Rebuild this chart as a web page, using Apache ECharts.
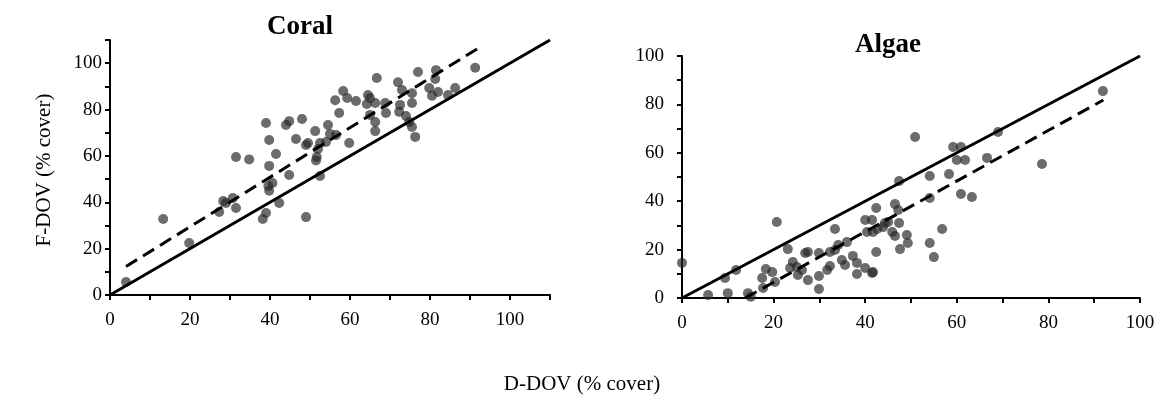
<!DOCTYPE html>
<html><head><meta charset="utf-8">
<script src="https://cdn.jsdelivr.net/npm/echarts@6/dist/echarts.min.js"></script>
<style>html,body{margin:0;padding:0;background:#fff}#c{width:1165px;height:401px}</style>
</head><body><div id="c"></div>
<script>
const coralPoints = [
[4,5.6],[13.3,32.8],[19.8,22.4],[27.3,35.8],[28.3,40.5],[29,39.7],[30.7,41.8],[31.5,37.5],[31.5,59.5],[34.8,58.5],
[38.2,32.8],[39,35.4],[39.6,47],[39.8,45],[40.6,48.3],[39.8,55.7],[42.3,39.7],[44.8,51.8],[49,33.6],[51.5,58],
[52.5,51.3],[39,74.2],[39.8,66.9],[41.5,60.8],[44,73.3],[44.8,75],[48,75.9],[46.5,67.3],[49.5,65.6],[51.3,70.7],
[51.7,59.5],[52.5,65.6],[54.5,73.3],[52,63],[55,69.5],[54,66],[56.5,69],[57.3,78.5],[56.3,84],[58.3,88],
[59.3,85],[61.5,83.7],[59.8,65.6],[64.5,86.3],[64.2,82.4],[66.3,82.8],[66.3,70.7],[66.7,93.6],[72,91.8],[77,96.2],
[81.5,97],[81.3,93.2],[91.3,98],[73,88.4],[75.5,87],[79.8,89.3],[82,87.6],[80.5,86],[86.3,89.3],[84.5,86.3],
[75.5,82.8],[65,85],[68.8,82.8],[69,78.5],[72.5,82],[72.3,79],[74,77.2],[66.3,74.6],[74.8,74.6],[75.5,72.5],
[76.3,68.2],[65,77.7],[49,64.7]
];
const algaePoints = [
[0,14.5],[5.7,1.2],[10,2],[9.4,8.3],[11.8,11.6],[14.4,2],[15,0.5],[20.7,31.4],[18.3,12],[19.7,10.7],
[17.5,8.3],[20.3,6.6],[17.7,4.1],[23.1,20.2],[24.2,14.9],[23.6,12.4],[25.1,12.8],[26.2,11.6],[25.3,9.5],[26.9,18.6],
[27.5,19],[27.5,7.4],[29.9,18.6],[29.9,9.1],[29.9,3.7],[31.7,11.6],[32.3,13.2],[32.3,19],[33.4,19.8],[34.1,21.9],
[33.4,28.5],[34.9,15.7],[35.6,13.6],[36,23.1],[37.3,17.4],[38.2,14.5],[38.2,9.9],[40,12.4],[40,32.2],[41.5,32.2],
[40.4,27.3],[41.7,27.3],[42.4,37.2],[42.4,19],[41.5,10.3],[50.9,66.5],[59.2,62.4],[60.9,62.4],[60,57],[61.8,57],
[66.6,57.9],[69,68.6],[54.1,50.4],[58.3,51.2],[47.4,48.3],[54.1,41.3],[60.9,43],[63.3,41.7],[56.8,28.5],[54.1,22.7],
[55,16.9],[46.5,38.8],[47.2,36.4],[44.3,31],[45,31.4],[43.9,29.3],[47.4,31],[45.9,27.3],[46.5,25.6],[49.1,26],
[49.3,22.7],[47.6,20.2],[42.6,28.5],[41.7,10.7],[78.6,55.4],[91.9,85.5]
];
const coralOneToOne = [[0,0],[110,110]];
const coralFit = [[4,12.3],[92,106.4]];
const algaeOneToOne = [[0,0],[100,100]];
const algaeFit = [[13.8,0],[92,81.8]];
const titles = ['Coral','Algae'];
const xTitle = 'D-DOV (% cover)';
const yTitle = 'F-DOV (% cover)';

const font = '"Liberation Serif", "DejaVu Serif", serif';
const chart = echarts.init(document.getElementById('c'));
function axis(max, gridIndex, margin){
  return {
    type:'value', gridIndex, min:0, max, interval:10,
    axisLine:{show:true, lineStyle:{color:'#000', width:2}},
    axisTick:{show:true, length:5, lineStyle:{color:'#000', width:2}},
    splitLine:{show:false},
    axisLabel:{color:'#000', fontFamily:font, fontSize:19, margin,
      formatter: v => (v % 20 === 0 ? String(v) : '')}
  };
}
const ptStyle = {color:'rgba(40,40,40,0.85)'};
chart.setOption({
  animation:false,
  graphic:[
    {type:'text', x:300, y:27, style:{text:titles[0], font:'bold 27px '+font, fill:'#000', align:'center', verticalAlign:'middle'}},
    {type:'text', x:888, y:45, style:{text:titles[1], font:'bold 27px '+font, fill:'#000', align:'center', verticalAlign:'middle'}},
    {type:'text', x:582, y:384, style:{text:xTitle, font:'21px '+font, fill:'#000', align:'center', verticalAlign:'middle'}},
    {type:'text', x:44, y:170, rotation:Math.PI/2, style:{text:yTitle, font:'21px '+font, fill:'#000', align:'center', verticalAlign:'middle'}}
  ],
  grid:[
    {left:110, right:615, top:40, bottom:106},
    {left:682, right:25, top:56, bottom:103}
  ],
  xAxis:[axis(110,0,16), axis(100,1,16)],
  yAxis:[axis(110,0,8), axis(100,1,18)],
  series:[
    {type:'scatter', xAxisIndex:0, yAxisIndex:0, data:coralPoints, symbolSize:10, itemStyle:ptStyle, z:2},
    {type:'line', xAxisIndex:0, yAxisIndex:0, data:coralOneToOne, symbol:'none', lineStyle:{color:'#000', width:3}, z:3},
    {type:'line', xAxisIndex:0, yAxisIndex:0, data:coralFit, symbol:'none', lineStyle:{color:'#000', width:3, type:[13,7]}, z:3},
    {type:'scatter', xAxisIndex:1, yAxisIndex:1, data:algaePoints, symbolSize:10, itemStyle:ptStyle, z:2},
    {type:'line', xAxisIndex:1, yAxisIndex:1, data:algaeOneToOne, symbol:'none', lineStyle:{color:'#000', width:3}, z:3},
    {type:'line', xAxisIndex:1, yAxisIndex:1, data:algaeFit, symbol:'none', lineStyle:{color:'#000', width:3, type:[13,7]}, z:3}
  ]
});
</script></body></html>
